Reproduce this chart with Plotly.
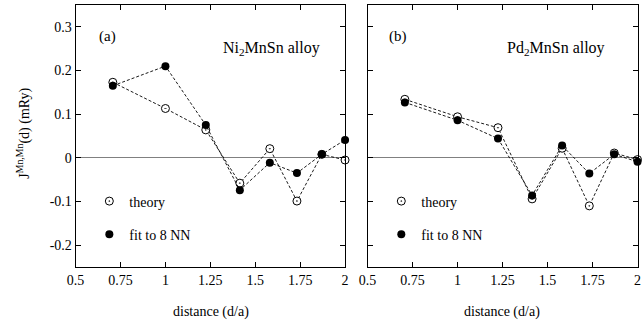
import plotly.graph_objects as go

# Data
distance = [0.7071, 1.0, 1.2247, 1.4142, 1.5811, 1.7321, 1.8708, 2.0]
ni_theory = [0.173, 0.113, 0.064, -0.058, 0.021, -0.099, 0.008, -0.005]
ni_fit = [0.165, 0.210, 0.075, -0.074, -0.011, -0.035, 0.008, 0.041]
pd_theory = [0.134, 0.094, 0.069, -0.094, 0.022, -0.110, 0.011, -0.004]
pd_fit = [0.127, 0.086, 0.044, -0.086, 0.028, -0.036, 0.008, -0.009]

x_ticks = [0.5, 0.75, 1, 1.25, 1.5, 1.75, 2]
x_ticktext = ["0.5", "0.75", "1", "1.25", "1.5", "1.75", "2"]
y_ticks = [-0.2, -0.1, 0, 0.1, 0.2, 0.3]
y_ticktext = ["-0.2", "-0.1", "0", "0.1", "0.2", "0.3"]

W, H = 642, 324
FONT = "Liberation Serif"

fig = go.Figure()

line_style = dict(color="black", width=0.9, dash="3px,2px")
open_marker = dict(symbol="circle-dot", size=8, color="white",
                   line=dict(color="black", width=1))
fill_marker = dict(symbol="circle", size=8, color="black",
                   line=dict(color="black", width=0))

for (theory, fit, xa, ya, leg) in [
    (ni_theory, ni_fit, "x", "y", "legend"),
    (pd_theory, pd_fit, "x2", "y2", "legend2"),
]:
    fig.add_trace(go.Scatter(x=distance, y=theory, mode="lines+markers",
                             line=line_style, marker=open_marker,
                             xaxis=xa, yaxis=ya, showlegend=False,
                             cliponaxis=False))
    fig.add_trace(go.Scatter(x=distance, y=fit, mode="lines+markers",
                             line=line_style, marker=fill_marker,
                             xaxis=xa, yaxis=ya, showlegend=False,
                             cliponaxis=False))
    fig.add_trace(go.Scatter(x=[None], y=[None], mode="markers",
                             marker=open_marker, name="theory",
                             xaxis=xa, yaxis=ya, legend=leg,
                             legendgroup=leg + "a"))
    fig.add_trace(go.Scatter(x=[None], y=[None], mode="markers",
                             marker=fill_marker, name="fit to 8 NN",
                             xaxis=xa, yaxis=ya, legend=leg,
                             legendgroup=leg + "b"))

axis_common = dict(showline=True, mirror="ticks", linecolor="black",
                   linewidth=1, ticks="inside", ticklen=5, tickcolor="black",
                   tickwidth=1, showgrid=False,
                   tickfont=dict(family=FONT, size=14, color="black"))

xa_dom = [68 / W, 343 / W]
xb_dom = [366 / W, 641.5 / W]

fig.update_layout(
    width=W, height=H,
    margin=dict(l=0, r=0, t=5, b=57),
    paper_bgcolor="white", plot_bgcolor="white",
    font=dict(family=FONT, size=14, color="black"),
    xaxis=dict(domain=xa_dom, range=[0.5, 2], tickvals=x_ticks,
               ticktext=x_ticktext, zeroline=False, **axis_common),
    xaxis2=dict(domain=xb_dom, range=[0.5, 2], tickvals=x_ticks,
                ticktext=x_ticktext, zeroline=False, anchor="y2",
                **axis_common),
    yaxis=dict(range=[-0.25, 0.35], tickvals=y_ticks, ticktext=y_ticktext,
               zeroline=True, zerolinecolor="#808080", zerolinewidth=1,
               **axis_common),
    yaxis2=dict(range=[-0.25, 0.35], tickvals=y_ticks, showticklabels=False,
                anchor="x2", zeroline=True, zerolinecolor="#808080",
                zerolinewidth=1, **axis_common),
    legend=dict(x=(102 - 20) / W, xanchor="left", y=(267 - 185.5) / 262,
                yanchor="top", bgcolor="rgba(0,0,0,0)", tracegroupgap=12,
                traceorder="grouped",
                font=dict(family=FONT, size=14, color="black")),
    legend2=dict(x=(400 - 20) / W, xanchor="left", y=(267 - 185.5) / 262,
                 yanchor="top", bgcolor="rgba(0,0,0,0)", tracegroupgap=12,
                 traceorder="grouped",
                 font=dict(family=FONT, size=14, color="black")),
)

def ann(text, x, y, xanchor="center", yanchor="middle", textangle=0,
        size=14):
    fig.add_annotation(text=text, xref="paper", yref="paper",
                       x=x, y=y, xanchor=xanchor, yanchor=yanchor,
                       showarrow=False, textangle=textangle,
                       font=dict(family=FONT, size=size, color="black"))

ann("(a)", 101 / W, (267 - 36.5) / 262, size=15)
ann("Ni<sub>2</sub>MnSn alloy", 267.5 / W, (267 - 48) / 262, size=16)
ann("(b)", 397 / W, (267 - 36.5) / 262, size=15)
ann("Pd<sub>2</sub>MnSn alloy", 558 / W, (267 - 48) / 262, size=16)
ann("distance (d/a)", 206 / W, (267 - 312) / 262)
ann("distance (d/a)", 503 / W, (267 - 312) / 262)
ann("J<sup>Mn,Mn</sup>(d) (mRy)", 14 / W, (267 - 133) / 262, textangle=-90)

fig.write_html("out.html", config={"displayModeBar": False},
               post_script="document.body.style.margin='0';"
                           "document.body.style.overflow='hidden';")
